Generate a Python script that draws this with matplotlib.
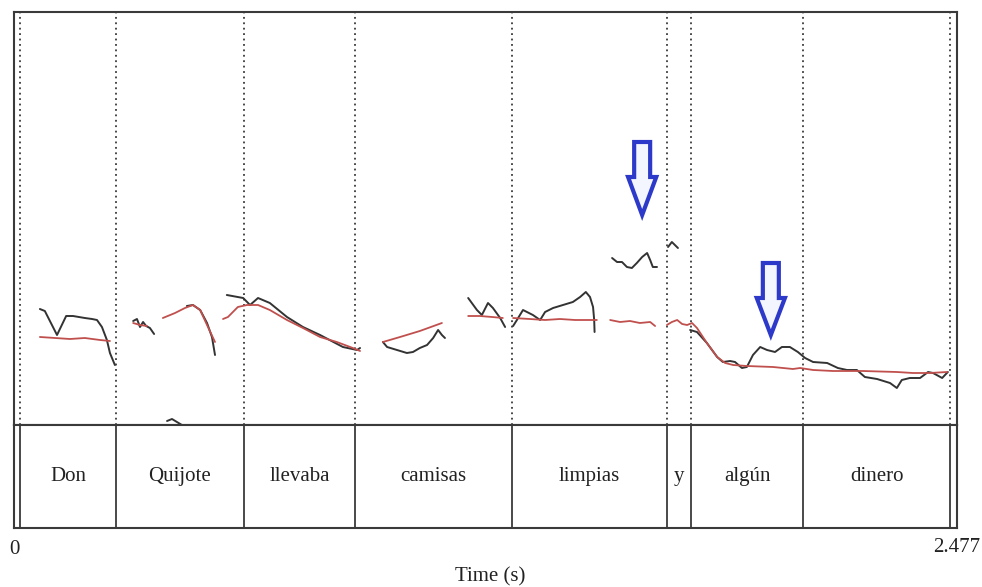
import matplotlib
matplotlib.use("Agg")
import matplotlib.pyplot as plt
from matplotlib.patches import Polygon

plt.rcParams['font.family'] = ['Liberation Serif', 'DejaVu Serif']

# ---------------- data ----------------
t_max = 2.477
boundaries = [0.016, 0.268, 0.604, 0.896, 1.308, 1.715, 1.778, 2.073, 2.459]
words = ["Don", "Quijote", "llevaba", "camisas", "limpias", "y", "algún", "dinero"]

# measured pitch (black), pieces: (times, Hz)
black_segments = [
    ([0.068, 0.081, 0.113, 0.137, 0.155, 0.186, 0.205, 0.218, 0.231, 0.244, 0.252, 0.265],
     [191, 189, 165, 184, 184, 182, 181, 180, 173, 160, 147, 135]),
    ([0.313, 0.323, 0.331, 0.339, 0.347, 0.357, 0.368],
     [179, 181, 173, 178, 174, 172, 166]),
    ([0.402, 0.415, 0.428, 0.441],
     [79, 81, 78, 75]),
    ([0.454, 0.470, 0.489, 0.507, 0.520, 0.528],
     [194, 195, 190, 177, 163, 145]),
    ([0.559, 0.602, 0.620, 0.641, 0.672, 0.717, 0.759, 0.804, 0.864, 0.901, 0.909],
     [205, 202, 195, 202, 197, 183, 173, 165, 153, 150, 152]),
    ([0.969, 0.980, 1.006, 1.032, 1.048, 1.066, 1.085, 1.101, 1.114, 1.124, 1.132],
     [158, 153, 150, 147, 148, 152, 155, 162, 170, 165, 162]),
    ([1.193, 1.216, 1.229, 1.245, 1.258, 1.277, 1.290],
     [202, 190, 185, 197, 192, 182, 173]),
    ([1.311, 1.321, 1.337, 1.363, 1.382, 1.395, 1.416, 1.442, 1.468, 1.487, 1.502, 1.513, 1.521, 1.524, 1.525],
     [174, 180, 190, 185, 180, 188, 192, 195, 198, 203, 208, 203, 193, 180, 168]),
    ([1.571, 1.584, 1.597, 1.610, 1.623, 1.636, 1.650, 1.663, 1.671, 1.678, 1.689],
     [242, 238, 238, 233, 232, 237, 243, 247, 240, 233, 233]),
    ([1.718, 1.728, 1.736, 1.744],
     [253, 258, 255, 252]),
    ([1.776, 1.794, 1.820, 1.847, 1.862, 1.881, 1.894, 1.912, 1.925, 1.941, 1.960, 1.978, 1.999,
      2.017, 2.038, 2.059, 2.078, 2.099, 2.136, 2.164, 2.188, 2.214, 2.235, 2.267, 2.301, 2.319,
      2.332, 2.353, 2.380, 2.401, 2.414, 2.438, 2.453],
     [170, 168, 157, 143, 138, 139, 138, 132, 133, 145, 153, 150, 148,
      153, 153, 148, 142, 138, 137, 132, 130, 130, 123, 121, 117, 112,
      120, 122, 122, 128, 127, 122, 128]),
]

# stylised / resynthesised pitch (red)
red_segments = [
    ([0.068, 0.108, 0.147, 0.186, 0.226, 0.252],
     [163, 162, 161, 162, 160, 159]),
    ([0.313, 0.331, 0.349],
     [177, 175, 174]),
    ([0.391, 0.423, 0.449, 0.470, 0.489, 0.507, 0.528],
     [182, 187, 192, 195, 190, 175, 158]),
    ([0.549, 0.562, 0.588, 0.612, 0.641, 0.672, 0.717, 0.759, 0.804, 0.848, 0.890, 0.909],
     [181, 183, 193, 195, 195, 190, 180, 172, 163, 158, 152, 149]),
    ([0.969, 1.014, 1.066, 1.124],
     [158, 163, 169, 177]),
    ([1.193, 1.224, 1.256, 1.284],
     [184, 184, 183, 182]),
    ([1.311, 1.355, 1.395, 1.434, 1.474, 1.513, 1.531],
     [182, 181, 180, 181, 180, 180, 180]),
    ([1.566, 1.592, 1.618, 1.644, 1.671, 1.684],
     [180, 178, 179, 177, 178, 174]),
    ([1.715, 1.728, 1.742, 1.755, 1.768, 1.781, 1.794, 1.820, 1.847, 1.868, 1.889, 1.925, 1.994,
      2.046, 2.065, 2.099, 2.151, 2.230, 2.319, 2.361, 2.406, 2.451],
     [175, 178, 180, 176, 175, 177, 172, 157, 143, 137, 135, 134, 133,
      131, 132, 130, 129, 129, 128, 127, 127, 128]),
]

# blue arrows: (time, top Hz, head start Hz, tip Hz)
arrow_times = [1.650, 1.988]
arrow_tops = [358, 237]
arrow_heads = [323, 202]
arrow_tips = [285, 165]

# ---------------- figure ----------------
W, H = 982, 587
fig = plt.figure(figsize=(W / 100, H / 100), dpi=100)
left = 14 / W
width = (957 - 14) / W
ax = fig.add_axes([left, (H - 425) / H, width, (425 - 12) / H])
tier = fig.add_axes([left, (H - 528) / H, width, (528 - 425) / H], sharex=ax)

frame_col = '#3a3a3a'
for a in (ax, tier):
    for s in a.spines.values():
        s.set_color(frame_col)
        s.set_linewidth(1.5)
    a.tick_params(left=False, bottom=False, labelleft=False, labelbottom=False)

ax.set_xlim(0, t_max)
ax.set_ylim(75, 488)
tier.set_ylim(0, 1)

for b in boundaries:
    ax.axvline(b, color='#3a3a3a', lw=1.3, linestyle=(0, (1.0, 2.0)))
    tier.axvline(b, color='#3a3a3a', lw=1.3)

for xs, ys in black_segments:
    ax.plot(xs, ys, color='#333333', lw=1.4, solid_capstyle='round',
            solid_joinstyle='round', zorder=3)
for xs, ys in red_segments:
    ax.plot(xs, ys, color='#c0504d', lw=1.3, solid_capstyle='round',
            solid_joinstyle='round', zorder=4)

# arrows
sw = 0.021
hw = 0.037
for t, top, hd, tip in zip(arrow_times, arrow_tops, arrow_heads, arrow_tips):
    pts = [(t - sw, top), (t + sw, top), (t + sw, hd), (t + hw, hd),
           (t, tip), (t - hw, hd), (t - sw, hd)]
    ax.add_patch(Polygon(pts, closed=True, facecolor='#f4f6ff', edgecolor='#2d39c9',
                         lw=3.0, joinstyle='miter', zorder=6))

# word tier labels
fs = 15
for i, w in enumerate(words):
    c = (boundaries[i] + boundaries[i + 1]) / 2
    tier.text(c, 0.5, w, ha='center', va='center', fontsize=fs, color='#222222')

# axis texts
fig.text(left, (H - 550) / H, '0', ha='center', va='center', fontsize=fs, color='#222222')
fig.text(957 / W, (H - 548) / H, f'{t_max:.3f}', ha='center', va='center', fontsize=fs,
         color='#222222')
fig.text(490 / W, (H - 577) / H, 'Time (s)', ha='center', va='center', fontsize=fs,
         color='#222222')

fig.savefig('out.png', dpi=100)
